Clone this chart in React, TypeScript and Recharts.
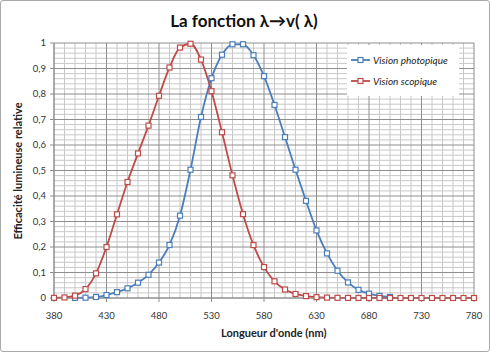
import { LineChart, Line, XAxis, YAxis, CartesianGrid } from 'recharts';

// longueurs d'onde (nm), pas de 10 nm
const wavelengths = [
  380, 390, 400, 410, 420, 430, 440, 450, 460, 470, 480, 490, 500, 510, 520, 530, 540, 550, 560, 570,
  580, 590, 600, 610, 620, 630, 640, 650, 660, 670, 680, 690, 700, 710, 720, 730, 740, 750, 760, 770, 780,
];

// vision photopique (bleu) - pas de point avant 400 ni après 700
const photopic = [
  null, null, 0.0004, 0.0012, 0.004, 0.0116, 0.023, 0.038, 0.06, 0.091, 0.139, 0.208, 0.323, 0.503, 0.71,
  0.862, 0.954, 0.995, 0.995, 0.952, 0.87, 0.757, 0.631, 0.503, 0.381, 0.265, 0.175, 0.107, 0.061, 0.032,
  0.017, 0.0082, 0.0041, null, null, null, null, null, null, null, null,
];

// vision scotopique (rouge)
const scotopic = [
  0.0006, 0.0022, 0.0093, 0.0348, 0.0966, 0.1998, 0.3281, 0.455, 0.567, 0.676, 0.793, 0.904, 0.982, 0.997,
  0.935, 0.811, 0.65, 0.481, 0.3288, 0.2076, 0.1212, 0.0655, 0.0332, 0.0159, 0.0074, 0.0033, 0.0015, 0.0007,
  0.0003, 0.0001, 0.0001, 0, 0, 0, 0, 0, 0, 0, 0, 0, 0,
];

const xTicks = [380, 430, 480, 530, 580, 630, 680, 730, 780];
const yTicks = [0, 0.1, 0.2, 0.3, 0.4, 0.5, 0.6, 0.7, 0.8, 0.9, 1];
const xMinor = [
  390, 400, 410, 420, 440, 450, 460, 470, 490, 500, 510, 520, 540, 550, 560, 570, 590, 600, 610, 620,
  640, 650, 660, 670, 690, 700, 710, 720, 740, 750, 760, 770,
];
const yMinor = [
  0.02, 0.04, 0.06, 0.08, 0.12, 0.14, 0.16, 0.18, 0.22, 0.24, 0.26, 0.28, 0.32, 0.34, 0.36, 0.38,
  0.42, 0.44, 0.46, 0.48, 0.52, 0.54, 0.56, 0.58, 0.62, 0.64, 0.66, 0.68, 0.72, 0.74, 0.76, 0.78,
  0.82, 0.84, 0.86, 0.88, 0.92, 0.94, 0.96, 0.98,
];

const data = wavelengths.map((wl, i) => ({ wl, photo: photopic[i], scoto: scotopic[i] }));

const BLUE = '#4a7ebb';
const RED = '#be4b48';
const FONT = 'Lato, "Open Sans", sans-serif';

const squareDot = (color) => (props) => {
  const { cx, cy, index, value } = props;
  if (value == null || cy == null) return <g key={`d-${index}`} />;
  return (
    <rect key={`d-${index}`} x={cx - 2.5} y={cy - 2.5} width={5} height={5} fill="#fff" stroke={color} strokeWidth={1.2} />
  );
};

function LegendBox() {
  const items = [
    { label: 'Vision photopique', color: BLUE },
    { label: 'Vision scopique', color: RED },
  ];
  return (
    <div style={{ position: 'absolute', left: 346, top: 44, background: '#fff', width: 112, height: 51, boxSizing: 'border-box', paddingTop: 4 }}>
      {items.map((it) => (
        <div key={it.label} style={{ display: 'flex', alignItems: 'center', height: 21, paddingLeft: 4 }}>
          <svg width={19} height={8} style={{ marginRight: 3 }}>
            <line x1={0} y1={4} x2={19} y2={4} stroke={it.color} strokeWidth={1.8} />
            <rect x={7} y={1.5} width={5} height={5} fill="#fff" stroke={it.color} strokeWidth={1.2} />
          </svg>
          <span style={{ fontStyle: 'italic', fontSize: 10, color: '#222', fontFamily: FONT }}>{it.label}</span>
        </div>
      ))}
    </div>
  );
}

export default function App() {
  return (
    <div
      style={{
        position: 'absolute', left: 0, top: 0, width: 490, height: 352, background: '#fff',
        border: '1px solid #a8a8a8', borderRadius: 3, boxSizing: 'border-box', fontFamily: FONT,
      }}
    >
      <div style={{ position: 'absolute', top: 9, left: 0, width: 486, textAlign: 'center', fontWeight: 700, fontSize: 17, color: '#111' }}>
        La fonction λ→v( λ)
      </div>
      <div
        style={{
          position: 'absolute', left: 16, top: 170, transform: 'translate(-50%, -50%) rotate(-90deg)',
          whiteSpace: 'nowrap', fontWeight: 700, fontSize: 11, color: '#222',
        }}
      >
        Efficacité lumineuse relative
      </div>
      <div style={{ position: 'absolute', top: 325, left: 220, width: 104, textAlign: 'center', fontWeight: 700, fontSize: 11, color: '#222', whiteSpace: 'nowrap' }}>
        Longueur d'onde (nm)
      </div>
      <div style={{ position: 'absolute', left: -1, top: -1 }}>
        <LineChart width={490} height={352} data={data} margin={{ top: 43, right: 16, bottom: 24, left: 0 }}>
          <CartesianGrid stroke="#c8c8c8" strokeWidth={1} horizontalValues={yMinor} verticalValues={xMinor} />
          <CartesianGrid stroke="#8e8e8e" strokeWidth={1} horizontalValues={yTicks} verticalValues={xTicks} />
          <XAxis
            dataKey="wl" type="number" domain={[380, 780]} ticks={xTicks} interval={0} height={30}
            stroke="#8e8e8e" tickSize={4} tickMargin={10}
            tick={{ fontSize: 9.5, fill: '#333', fontFamily: FONT }}
          />
          <YAxis
            type="number" domain={[0, 1]} ticks={yTicks} interval={0} width={54}
            stroke="#8e8e8e" tickSize={4} tickMargin={4}
            tickFormatter={(v) => String(Math.round(v * 10) / 10).replace('.', ',')}
            tick={{ fontSize: 9.5, fill: '#333', fontFamily: FONT }}
          />
          <Line
            type="monotone" dataKey="photo" name="Vision photopique" stroke={BLUE} strokeWidth={1.8}
            dot={squareDot(BLUE)} activeDot={false} isAnimationActive={false} connectNulls={false}
          />
          <Line
            type="monotone" dataKey="scoto" name="Vision scopique" stroke={RED} strokeWidth={1.8}
            dot={squareDot(RED)} activeDot={false} isAnimationActive={false}
          />
        </LineChart>
      </div>
      <LegendBox />
    </div>
  );
}
